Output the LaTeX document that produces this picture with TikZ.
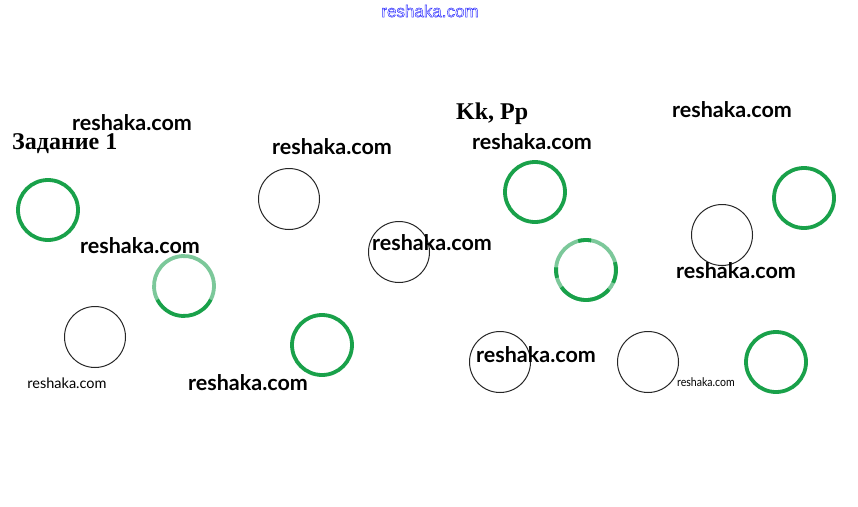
\documentclass[tikz,border=0pt]{standalone}
\usepackage{fontspec}
\setmainfont{Liberation Serif}
\newfontfamily\wmfont{Lato}
\newfontfamily\topfont{Liberation Sans}
\definecolor{grn}{HTML}{19A14A}
\definecolor{lgrn}{HTML}{7CC89A}
\newcommand{\outlinetext}[1]{\special{pdf:literal direct 1 Tr 0.5 w}#1\special{pdf:literal direct 0 Tr}}
\tikzset{
  gcirc/.style={draw=grn, line width=3.8pt},
  bcirc/.style={draw=black!85, line width=1pt},
  wm/.style={font=\wmfont\bfseries\fontsize{21.5}{24}\selectfont, inner sep=0pt, text=black},
  wms/.style={font=\wmfont\fontsize{14.5}{16}\selectfont, inner sep=0pt, text=black},
  wmt/.style={font=\wmfont\fontsize{12}{14}\selectfont, inner sep=0pt, text=black, xscale=0.88},
  ttl/.style={font=\bfseries\fontsize{24}{28}\selectfont, inner sep=0pt}
}
\begin{document}
\begin{tikzpicture}[x=1pt,y=-1pt]
\useasboundingbox (0,0) rectangle (858,506);
\fill[white] (0,0) rectangle (858,506);
% titles
\node[ttl, anchor=base west] (t1) at (12,149) {Задание 1};
\node[ttl, anchor=base west] (t2) at (456,119) {Kk, Pp};
\node[font=\topfont\fontsize{17}{19}\selectfont, text=blue!80!white, inner sep=0pt] (top) at (430,11) {\outlinetext{reshaka.com}};
% green circles (angles measured with y pointing down)
\draw[lgrn, line width=3.8pt] (184,286) ++(153:30) arc (153:387:30);
\draw[gcirc] (184,286) ++(27:30) arc (27:153:30);
\draw[gcirc] (322,345) circle (30);
\draw[gcirc] (535,192) circle (30);
\draw[lgrn, line width=3.8pt] (586,270) circle (30);
\draw[gcirc] (586,270) ++(40:30) arc (40:145:30);
\draw[gcirc] (586,270) ++(-15:30) arc (-15:25:30);
\draw[gcirc] (586,270) ++(-105:30) arc (-105:-80:30);
\draw[gcirc] (586,270) ++(165:30) arc (165:185:30);
\draw[gcirc] (48,210) circle (30);
\draw[gcirc] (804,198) circle (30);
\draw[gcirc] (776,362) circle (30);
% black circles
\draw[bcirc] (289,199) circle (30.5);
\draw[bcirc] (95,337) circle (30.5);
\draw[bcirc] (399,252) circle (30.5);
\draw[bcirc] (722,235) circle (30.5);
\draw[bcirc] (500,362) circle (30.5);
\draw[bcirc] (648,362) circle (30.5);
% watermarks
\node[wm] (w1) at (132,123) {reshaka.com};
\node[wm] (w2) at (332,147) {reshaka.com};
\node[wm] (w3) at (140,246) {reshaka.com};
\node[wm] (w4) at (432,243) {reshaka.com};
\node[wm] (w5) at (532,142) {reshaka.com};
\node[wm] (w6) at (732,110) {reshaka.com};
\node[wm] (w7) at (736,271) {reshaka.com};
\node[wm] (w8) at (248,383) {reshaka.com};
\node[wm] (w9) at (536,355) {reshaka.com};
\node[wms] (w10) at (67,383) {reshaka.com};
\node[wmt] (w11) at (706,382) {reshaka.com};
\end{tikzpicture}
\end{document}
